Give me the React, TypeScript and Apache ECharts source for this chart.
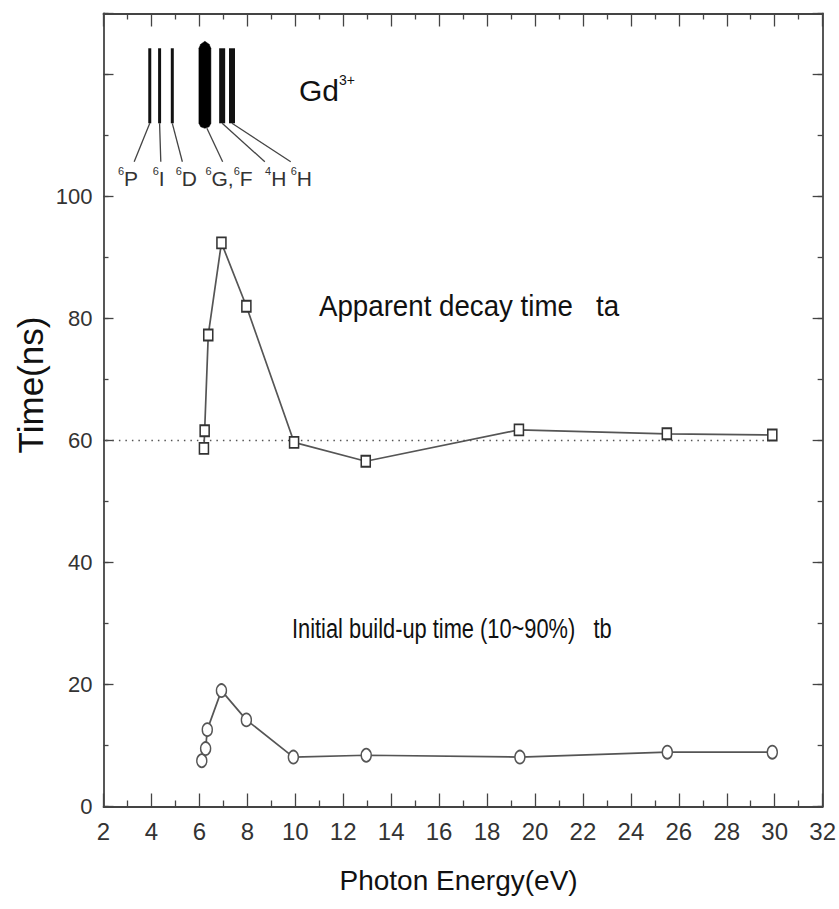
import React, { useEffect, useRef } from "react";
import * as echarts from "echarts";

// ---- data ----
const energyTa = [6.19, 6.22, 6.37, 6.92, 7.96, 9.95, 12.94, 19.33, 25.5, 29.9];
const timeTa = [58.7, 61.6, 77.3, 92.4, 82.0, 59.7, 56.6, 61.75, 61.1, 60.9];
const energyTb = [6.1, 6.26, 6.33, 6.92, 7.96, 9.92, 12.96, 19.37, 25.52, 29.9];
const timeTb = [7.5, 9.5, 12.6, 19.0, 14.2, 8.1, 8.4, 8.1, 8.9, 8.9];
const refEnergy = [2.1, 29.8];
const refTime = [60, 60];

// Gd3+ level diagram (energies in eV)
const levelNames = ["6P", "6I", "6D", "6G", "4H", "6H"];
const levelEnergy = [3.93, 4.34, 4.87, 6.23, 6.95, 7.36];
const leaderEndEnergy = [3.28, 4.39, 5.29, 6.97, 8.73, 9.81];
const labelEnergy = [2.6, 4.05, 5.01, 6.25, 8.74, 9.81];
const levelLabels = ["{s|6}{m|P}", "{s|6}{m|I}", "{s|6}{m|D}", "{s|6}{m|G,}{s|6}{m|F}", "{s|4}{m|H}", "{s|6}{m|H}"];

const xTicksMin = 2;
const xTicksMax = 32;
const yMin = 0;
const yMax = 130;

const FONT = "'Liberation Sans', Arial, sans-serif";

const LEVEL_WIDTH = [3, 3, 3, 12, 6, 6];

export default function App() {
  const ref = useRef<HTMLDivElement>(null);
  useEffect(() => {
    if (!ref.current) return;
    const chart = echarts.init(ref.current, undefined, { renderer: "svg" });
    const axisColor = "#444";
    const baseX = {
      type: "value",
      min: xTicksMin,
      max: xTicksMax,
      interval: 2,
      axisLine: { show: true, onZero: false, lineStyle: { color: axisColor, width: 1.8 } },
      axisTick: { show: true, inside: true, length: 13, lineStyle: { color: axisColor, width: 1.3 } },
      minorTick: { show: true, splitNumber: 2, length: 6, lineStyle: { color: axisColor, width: 1.3 } },
      splitLine: { show: false },
      minorSplitLine: { show: false },
    };
    const baseY = {
      type: "value",
      min: yMin,
      max: yMax,
      axisLine: { show: true, onZero: false, lineStyle: { color: axisColor, width: 1.8 } },
      splitLine: { show: false },
    };
    const option: any = {
      animation: false,
      backgroundColor: "#fff",
      grid: { left: 103.5, right: 12.5, top: 13.5, bottom: 102.5, containLabel: false },
      xAxis: [
        {
          ...baseX,
          position: "bottom",
          axisLabel: { show: true, margin: 13, fontSize: 24, color: "#333", fontFamily: FONT },
          name: "Photon Energy(eV)",
          nameLocation: "middle",
          nameGap: 60,
          nameTextStyle: { fontSize: 28, color: "#111", fontFamily: FONT, padding: [0, 9, 0, 0] },
        },
        { ...baseX, position: "top", axisLabel: { show: false } },
      ],
      yAxis: [
        {
          ...baseY,
          position: "left",
          interval: 20,
          axisTick: { show: true, inside: true, length: 10, lineStyle: { color: axisColor, width: 1.3 } },
          axisLabel: {
            show: true,
            margin: 11,
            fontSize: 22,
            color: "#333",
            fontFamily: FONT,
            formatter: (v: number) => (v > 100 ? "" : String(v)),
          },
        },
        {
          ...baseY,
          position: "left",
          interval: 10,
          axisLine: { show: false },
          axisTick: { show: true, inside: true, length: 5, lineStyle: { color: axisColor, width: 1.3 } },
          axisLabel: { show: false },
        },
        {
          ...baseY,
          position: "right",
          interval: 20,
          axisTick: { show: true, inside: true, length: 10, lineStyle: { color: axisColor, width: 1.3 } },
          axisLabel: { show: false },
        },
        {
          ...baseY,
          position: "right",
          interval: 10,
          axisLine: { show: false },
          axisTick: { show: true, inside: true, length: 5, lineStyle: { color: axisColor, width: 1.3 } },
          axisLabel: { show: false },
        },
      ],
      graphic: [
        {
          type: "text",
          x: 30,
          y: 385,
          rotation: Math.PI / 2,
          style: { text: "Time(ns)", font: `35px ${FONT}`, fill: "#111", align: "center", verticalAlign: "middle" },
        },
        {
          type: "text",
          x: 319,
          y: 306,
          scaleX: 0.955,
          style: { text: "Apparent decay time   ta", font: `29px ${FONT}`, fill: "#111", align: "left", verticalAlign: "middle" },
        },
        {
          type: "text",
          x: 292,
          y: 628,
          scaleX: 0.78,
          style: { text: "Initial build-up time (10~90%)   tb", font: `28px ${FONT}`, fill: "#111", align: "left", verticalAlign: "middle" },
        },
        {
          type: "text",
          x: 299,
          y: 105,
          style: {
            text: "{g|Gd}{p|3+}",
            align: "left",
            verticalAlign: "bottom",
            rich: {
              g: { fontSize: 30, fontFamily: FONT, fill: "#111", color: "#111", verticalAlign: "bottom", lineHeight: 32 },
              p: { fontSize: 14, fontFamily: FONT, fill: "#111", color: "#111", verticalAlign: "top", lineHeight: 14 },
            },
          },
        },
      ],
      series: [
        {
          type: "line",
          xAxisIndex: 0,
          yAxisIndex: 0,
          data: refEnergy.map((x, i) => [x, refTime[i]]),
          symbol: "none",
          lineStyle: { color: "#555", width: 1.3, type: [1.5, 5] },
          silent: true,
          z: 1,
        },
        {
          type: "line",
          name: "ta",
          xAxisIndex: 0,
          yAxisIndex: 0,
          data: energyTa.map((x, i) => [x, timeTa[i]]),
          symbol: "rect",
          symbolSize: [9, 11],
          itemStyle: { color: "#fff", borderColor: "#333", borderWidth: 1.7 },
          lineStyle: { color: "#555", width: 1.7 },
          z: 3,
        },
        {
          type: "line",
          name: "tb",
          xAxisIndex: 0,
          yAxisIndex: 0,
          data: energyTb.map((x, i) => [x, timeTb[i]]),
          symbol: "circle",
          symbolSize: [10, 13],
          itemStyle: { color: "#fff", borderColor: "#555", borderWidth: 1.6 },
          lineStyle: { color: "#555", width: 1.7 },
          z: 3,
        },
        {
          type: "custom",
          name: "Gd levels",
          xAxisIndex: 0,
          yAxisIndex: 0,
          clip: false,
          data: levelEnergy.map((e, i) => [e, leaderEndEnergy[i], labelEnergy[i]]),
          renderItem: (params: any, api: any) => {
            const i = params.dataIndex;
            const e = api.value(0);
            const le = api.value(1);
            const lx = api.value(2);
            const top = api.coord([e, 124.3]);
            const bot = api.coord([e, 112.0]);
            const leadEnd = api.coord([le, 105.7]);
            const lab = api.coord([lx, 101.3]);
            const w = LEVEL_WIDTH[i];
            const children: any[] = [];
            let leadStartY = bot[1];
            if (w > 8) {
              const cx = top[0];
              const h = w / 2;
              const yT = top[1];
              const yB = bot[1] + 5;
              children.push({
                type: "polygon",
                shape: {
                  points: [
                    [cx, yT - 7],
                    [cx + h * 0.7, yT - 4],
                    [cx + h, yT],
                    [cx + h, yB - 5],
                    [cx + h * 0.7, yB - 1.5],
                    [cx, yB],
                    [cx - h * 0.7, yB - 1.5],
                    [cx - h, yB - 5],
                    [cx - h, yT],
                    [cx - h * 0.7, yT - 4],
                  ],
                },
                style: { fill: "#000", stroke: "#000", lineWidth: 0.5 },
              });
              leadStartY = yB;
            } else {
              children.push({
                type: "line",
                shape: { x1: top[0], y1: top[1], x2: bot[0], y2: bot[1] },
                style: { stroke: "#111", lineWidth: w },
              });
            }
            children.push({
              type: "line",
              shape: { x1: top[0] + (w > 8 ? 2 : 0), y1: leadStartY, x2: leadEnd[0], y2: leadEnd[1] },
              style: { stroke: "#444", lineWidth: 1.3 },
            });
            children.push({
              type: "text",
              style: {
                text: levelLabels[i],
                x: lab[0],
                y: lab[1],
                align: "left",
                verticalAlign: "bottom",
                rich: {
                  s: { fontSize: 11, fontFamily: FONT, fill: "#333", verticalAlign: "top", lineHeight: 12 },
                  m: { fontSize: 21, fontFamily: FONT, fill: "#333", verticalAlign: "bottom", lineHeight: 23 },
                },
              },
            });
            return { type: "group", children, name: levelNames[i] };
          },
          z: 5,
        },
      ],
    };
    chart.setOption(option);
    return () => chart.dispose();
  }, []);
  return (
    <div
      ref={ref}
      style={{ position: "absolute", left: 0, top: 0, width: 839, height: 909, background: "#fff" }}
    />
  );
}
